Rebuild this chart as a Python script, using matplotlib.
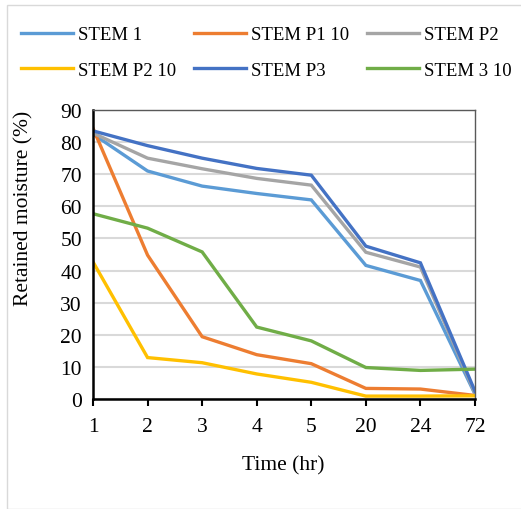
import matplotlib
matplotlib.use("Agg")
import matplotlib.pyplot as plt
from matplotlib.patches import Rectangle

times = ["1", "2", "3", "4", "5", "20", "24", "72"]
stem_1 = [82.5, 71.0, 66.3, 64.0, 62.0, 41.6, 36.9, 1.5]
stem_p1_10 = [84.3, 44.8, 19.4, 13.8, 11.0, 3.3, 3.1, 1.1]
stem_p2 = [82.8, 75.0, 71.7, 68.7, 66.6, 45.7, 41.1, 1.8]
stem_p2_10 = [42.7, 12.9, 11.3, 7.8, 5.2, 0.9, 0.9, 1.0]
stem_p3 = [83.5, 78.9, 75.0, 71.8, 69.7, 47.6, 42.4, 2.4]
stem_3_10 = [57.7, 53.2, 45.8, 22.4, 18.1, 9.8, 8.9, 9.3]

series = [
    ("STEM 1", stem_1, "#5B9BD5"),
    ("STEM P1 10", stem_p1_10, "#ED7D31"),
    ("STEM P2", stem_p2, "#A5A5A5"),
    ("STEM P2 10", stem_p2_10, "#FFC000"),
    ("STEM P3", stem_p3, "#4472C4"),
    ("STEM 3 10", stem_3_10, "#70AD47"),
]

plt.rcParams['font.family'] = ['Liberation Serif', 'DejaVu Serif']
W, H = 521, 510
fig = plt.figure(figsize=(W / 100, H / 100), dpi=100)
fig.patches.append(Rectangle((7 / W, 0), 1.2, 1 - 6 / H, transform=fig.transFigure,
                             fill=False, edgecolor="#D9D9D9", linewidth=1.0))

ax = fig.add_axes([93 / W, (H - 400) / H, (475 - 93) / W, (400 - 111) / H])
x = list(range(len(times)))
handles = []
for name, vals, col in series:
    h, = ax.plot(x, vals, color=col, linewidth=2.4, label=name, solid_joinstyle='miter')
    handles.append(h)

ax.set_xlim(0, len(times) - 1)
ax.set_ylim(0, 90)
ax.set_yticks(range(0, 91, 10))
ax.set_xticks(x)
ax.set_xticklabels(times)
ax.yaxis.grid(True, color="#D9D9D9", linewidth=1.5)
ax.set_axisbelow(True)
ax.tick_params(axis='y', length=0, pad=8, labelsize=15.5)
ax.tick_params(axis='x', length=5, width=1.5, direction='out', pad=8, labelsize=15.5, color='black')
for s in ['top', 'right']:
    ax.spines[s].set_color('#595959')
    ax.spines[s].set_linewidth(1.0)
for s in ['left', 'bottom']:
    ax.spines[s].set_color('black')
    ax.spines[s].set_linewidth(1.8)

fig.text(24 / W, 1 - 208 / H, "Retained moisture (%)", rotation=90, ha='center', va='center', fontsize=15.5)
fig.text(283 / W, 1 - 466 / H, "Time (hr)", ha='center', va='center', fontsize=15.5)

order = [0, 3, 1, 4, 2, 5]
leg = fig.legend(handles=[handles[i] for i in order], ncol=3, loc='upper left',
                 bbox_to_anchor=(21 / W, 1 - 27 / H), borderpad=0, borderaxespad=0,
                 frameon=False, fontsize=13.5, handlelength=2.77, handletextpad=0.27,
                 columnspacing=0.96, labelspacing=1.0)

fig.savefig("out.png", dpi=100)
